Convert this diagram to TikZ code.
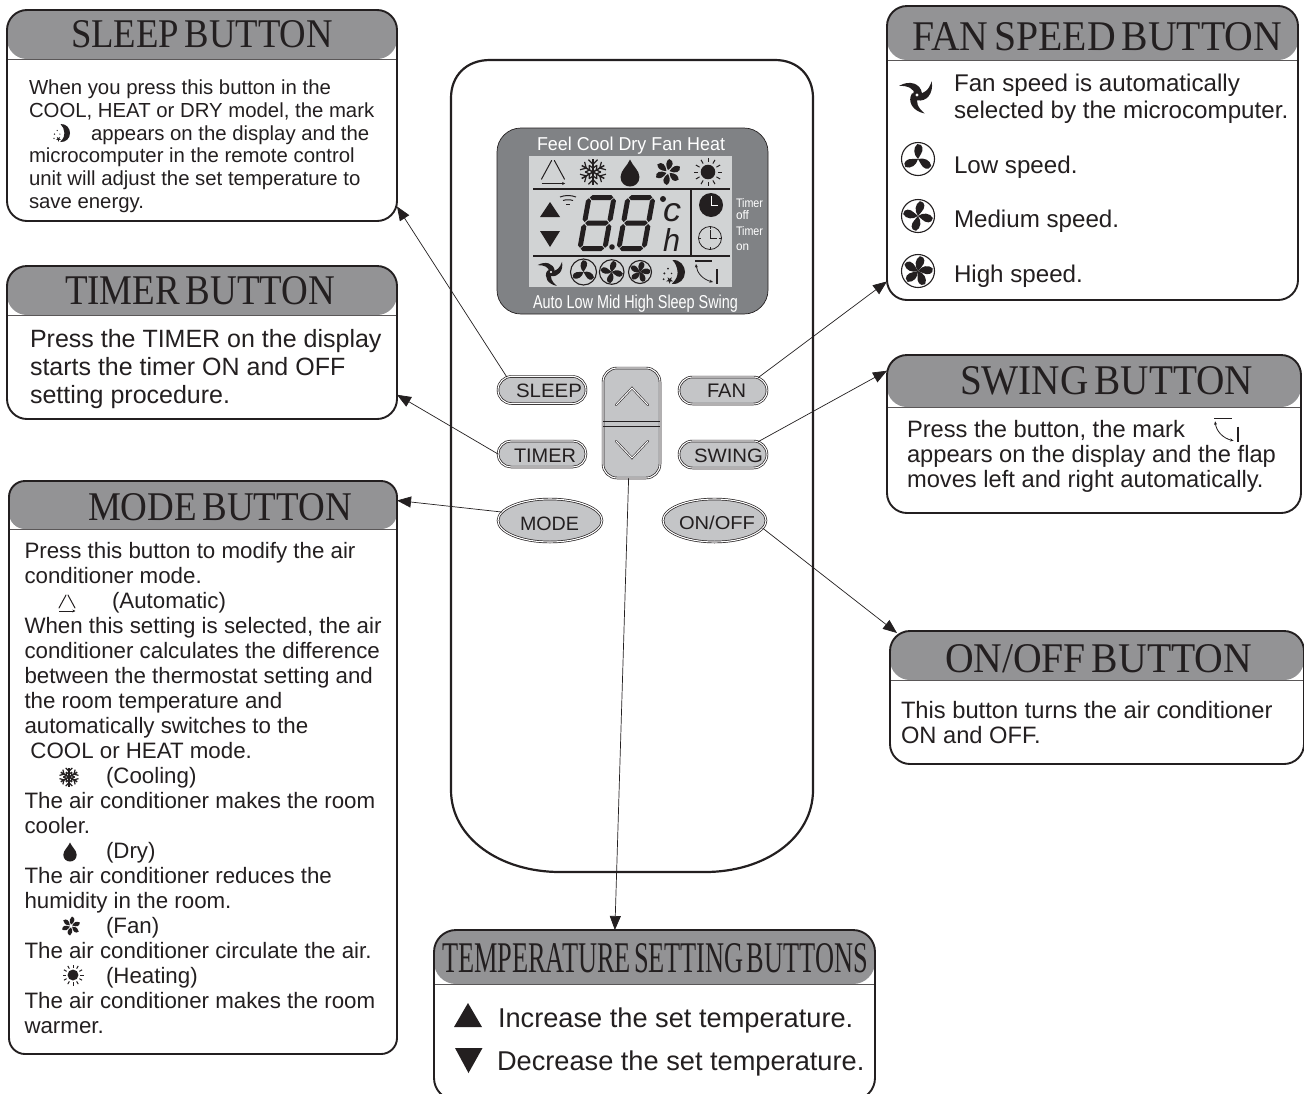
\documentclass[tikz,border=0pt]{standalone}
\usepackage{fontspec}
\usepackage{graphicx}
\setmainfont{Liberation Sans}
\newfontfamily\rsSerif{Liberation Serif}
\usetikzlibrary{arrows.meta,shapes.misc,shapes.geometric}
\definecolor{dark}{HTML}{231F20}
\definecolor{hdrc}{HTML}{939395}
\definecolor{btnc}{HTML}{C4C5C7}
\definecolor{lcdo}{HTML}{808285}
\definecolor{lcdi}{HTML}{D1D3D4}
\tikzset{
  panel/.style={draw=dark,line width=1.9pt,inner sep=0pt,outer sep=0pt,fill=white},
  lbl/.style={anchor=base west,inner sep=0pt,outer sep=0pt,text=dark},
  conn/.style={draw=dark,line width=.7pt,-{Triangle[length=14pt,width=11pt]}},
  btn/.style={draw=dark,line width=.7pt,double=white,double distance=1.1pt,fill=btnc,inner sep=0pt,outer sep=0pt},
  dbl/.style={draw=dark,line width=.55pt,double=white,double distance=1pt,line cap=round,line join=miter},
  ink/.style={draw=dark,fill=dark}
}
% name x1 y1 x2 y2 ybar radius
\newcommand\rsPanel[7]{%
  \pgfmathsetmacro\rsW{#4-#2}\pgfmathsetmacro\rsH{#5-#3}\pgfmathsetmacro\rsB{#6-#3}%
  \node[panel,minimum width=\rsW pt,minimum height=\rsH pt,rounded corners=#7pt,
    path picture={\fill[hdrc] (path picture bounding box.north west) rectangle ([yshift=-\rsB pt]path picture bounding box.north east);
      \draw[line width=1pt,draw=dark!75] ([yshift=-\rsB pt]path picture bounding box.north west) -- ([yshift=-\rsB pt]path picture bounding box.north east);}]
    (#1) at ({(#2+#4)/2},{(#3+#5)/2}) {};}
% name x baseline width height fontcmd text
\newcommand\rsFit[7]{\node[lbl] (#1) at (#2,#3) {\resizebox{#4pt}{#5pt}{#6#7}};}
% name x firstbaseline lead size {lines}
\newcommand\rsLines[6]{\foreach \rsT [count=\rsI from 0] in {#6} {\node[lbl,font=\fontsize{#5}{#5}\selectfont] (#1\rsI) at (#2,{#3+\rsI*#4}) {\rsT};}}
% icons: x y scale
\newcommand\icAuto[3]{\begin{scope}[shift={(#1,#2)},scale=#3]
  \draw[dark,line width=1pt,line cap=round] (-.12,-1) -- (-1,.62) (.12,-1) -- (1,.62);
  \draw[dark,line width=1pt,-{Stealth[length=3pt,width=3pt]}] (-1,1) -- (1.05,1);
\end{scope}}
\newcommand\icSnow[3]{\begin{scope}[shift={(#1,#2)},scale=#3]
  \foreach \a in {0,60,...,300}{\begin{scope}[rotate=\a]
    \draw[dark,line width=1.5pt] (0,0) -- (0,-1);
    \draw[dark,line width=1.2pt] (-.35,-.95) -- (0,-.6) -- (.35,-.95);
    \draw[dark,line width=1.2pt] (-.3,-.52) -- (0,-.3) -- (.3,-.52);
  \end{scope}}
\end{scope}}
\newcommand\icDrop[3]{\begin{scope}[shift={(#1,#2)},scale=#3]
  \fill[dark] (0,-1) .. controls (.2,-.5) and (.7,-.2) .. (.7,.3) .. controls (.7,.75) and (.35,1) .. (0,1) .. controls (-.35,1) and (-.7,.75) .. (-.7,.3) .. controls (-.7,-.2) and (-.2,-.5) .. (0,-1) -- cycle;
\end{scope}}
\newcommand\icPin[3]{\begin{scope}[shift={(#1,#2)},scale=#3]
  \foreach \a in {0,60,...,300}{\fill[dark,rotate=\a] (0,-.14) .. controls (-.2,-.5) and (-.18,-.85) .. (.1,-1) .. controls (.5,-.85) and (.42,-.42) .. (0,-.14) -- cycle;}
\end{scope}}
\newcommand\icSun[3]{\begin{scope}[shift={(#1,#2)},scale=#3]
  \fill[dark] (0,0) circle (.52);
  \foreach \a in {0,30,...,330}{\draw[dark,line width=1pt,rotate=\a] (0,-.7) -- (0,-1);}
\end{scope}}
% fan in circle: x y r list-of-angles
\newcommand\icFan[4]{\begin{scope}[shift={(#1,#2)},scale=#3]
  \draw[dark,line width=1.1pt] (0,0) circle (1);
  \foreach \a in {#4}{\fill[dark,rotate=\a] (0,0) .. controls (-.22,-.3) and (-.2,-.72) .. (.12,-.9) .. controls (.5,-.85) and (.42,-.45) .. (.22,-.26) .. controls (.12,-.15) .. (0,0) -- cycle;}
\end{scope}}
\newcommand\icAfan[3]{\begin{scope}[shift={(#1,#2)},scale=#3]
  \foreach \a in {0,110,-110}{\fill[dark,rotate=\a] (0,.33) .. controls (.6,.45) and (1.05,-.1) .. (.92,-.85) .. controls (.75,-.35) and (.45,-.02) .. (.05,-.12) -- cycle;}
  \fill[dark] (0,0) circle (.28);
  \fill[white] (0,0) circle (.1);
\end{scope}}
\newcommand\icStar[3]{\fill[dark,shift={(#1,#2)},scale=#3] (90:1) -- (234:1) -- (18:1) -- (162:1) -- (306:1) -- cycle;}
\newcommand\icMoon[3]{\begin{scope}[shift={(#1,#2)},scale=#3]
  \fill[dark] (-.05,-1) .. controls (.6,-1.05) and (1,-.5) .. (1,0) .. controls (1,.6) and (.55,1.05) .. (-.1,1) .. controls (.3,.6) and (.4,.3) .. (.38,0) .. controls (.36,-.4) and (.2,-.75) .. (-.05,-1) -- cycle;
  \icStar{-.28}{.68}{.3}
  \fill[dark] (-.72,.12) circle (.09) (-.42,-.28) circle (.08) (-.78,.6) circle (.08) (-.12,.12) circle (.07);
\end{scope}}
\newcommand\icSwing[3]{\begin{scope}[shift={(#1,#2)},scale=#3]
  \draw[dark,line width=1.1pt] (1,1) -- (18,1);
  \draw[dark,line width=1.3pt] (23,9) -- (23,23.5);
  \draw[dark,line width=.8pt,{Stealth[length=3.5pt,width=3pt]}-{Stealth[length=3.5pt,width=3pt]}] (2,4) .. controls (3,13) and (9,19.5) .. (19,22);
\end{scope}}
\newcommand\rsHS[3]{\fill[dark] (#1,#3) -- ({#1+2.5},{#3-2.5}) -- ({#2-2.5},{#3-2.5}) -- (#2,#3) -- ({#2-2.5},{#3+2.5}) -- ({#1+2.5},{#3+2.5}) -- cycle;}
\newcommand\rsVS[3]{\fill[dark] (#1,#2) -- ({#1+2.5},{#2+2.5}) -- ({#1+2.5},{#3-2.5}) -- (#1,#3) -- ({#1-2.5},{#3-2.5}) -- ({#1-2.5},{#2+2.5}) -- cycle;}
\newcommand\rsDigit[2]{\begin{scope}[shift={(#1,#2)},xslant=.18]
  \rsHS{3.2}{26.8}{2.5}\rsHS{3.2}{26.8}{28}\rsHS{3.2}{26.8}{53.5}
  \rsVS{2.5}{3.2}{27}\rsVS{27.5}{3.2}{27}\rsVS{2.5}{29}{52.8}\rsVS{27.5}{29}{52.8}
\end{scope}}
\begin{document}
\begin{tikzpicture}[x=1pt,y=-1pt]
\useasboundingbox (0,0) rectangle (1304,1093);
\clip (0,0) rectangle (1304,1093);
\fill[white] (0,0) rectangle (1304,1093);
% remote body
\draw[dark,line width=2.2pt] (490,60) -- (775,60) .. controls (798,60) and (813,76) .. (813,98) -- (813,790) .. controls (813,838) and (765,872) .. (705,872) -- (560,872) .. controls (500,872) and (451,838) .. (451,790) -- (451,98) .. controls (451,76) and (466,60) .. (490,60) -- cycle;
% display
\node[draw=dark,line width=.7pt,fill=lcdo,rounded corners=24pt,minimum width=271pt,minimum height=186pt,inner sep=0pt] (lcd) at (632.5,221) {};
\node[fill=lcdi,minimum width=203pt,minimum height=131pt,inner sep=0pt] (lcdin) at (630.5,221.5) {};
\rsFit{lcdtop}{537}{150}{188}{13.5}{\color{white}}{Feel Cool Dry Fan Heat}
\rsFit{lcdbot}{533}{308}{205}{13.5}{\color{white}}{Auto Low Mid High Sleep Swing}
\rsFit{tm1}{736}{207}{27}{9}{\color{white}}{Timer}
\rsFit{tm2}{736}{219}{13}{9}{\color{white}}{off}
\rsFit{tm3}{736}{235}{27}{9}{\color{white}}{Timer}
\rsFit{tm4}{736}{250}{13}{6.5}{\color{white}}{on}
\draw[dark,line width=1.9pt] (533,189) -- (730,189) (533,256) -- (730,256);
\draw[dark,line width=1.1pt] (691,189) -- (691,256);
\icAuto{553}{172}{11.5}
\icSnow{593}{172}{13}
\icDrop{630}{173}{13.5}
\icPin{668}{172}{13}
\icSun{708}{172}{14}
\fill[dark] (540,217) -- (560,217) -- (550,202) -- cycle;
\fill[dark] (540,231) -- (560,231) -- (550,247) -- cycle;
\draw[dark,line width=1pt] (560,197) .. controls (565,195) and (571,195) .. (576,197);
\draw[dark,line width=1pt] (563,200.5) .. controls (566,199.5) and (570,199.5) .. (573,200.5);
\draw[dark,line width=1pt] (566,204.5) -- (570,204.5);
\rsDigit{587}{195}
\rsDigit{626}{195}
\fill[dark] (612,247) circle (2.8);
\fill[dark] (663,199) circle (3);
\rsFit{unitc}{663}{221}{18}{18}{\itshape}{c}
\rsFit{unith}{663}{251}{17}{23}{\itshape}{h}
% clocks
\fill[dark] (711,205) circle (12);
\draw[white,line width=.8pt] (711,196) -- (711,205) -- (718,205);
\draw[dark,line width=.8pt] (710,238) circle (11.5);
\draw[dark,line width=.8pt] (710,229.5) -- (710,238) -- (717,238);
\draw[dark,line width=1pt] (710,226.5) -- (710,229) (710,247) -- (710,249.5) (698.5,238) -- (701,238) (719,238) -- (721.5,238);
\icAfan{551}{272}{12}
\icFan{583.5}{272}{13}{10,130,250}
\icFan{611.7}{272}{12.3}{0,90,180,270}
\icFan{640}{272}{11.5}{0,72,144,216,288}
\icMoon{673}{272}{12}
\icSwing{694}{260}{1}
% buttons
\node[btn,rounded rectangle,minimum width=88pt,minimum height=27pt] (bsleep) at (542,390) {};
\node[btn,rounded rectangle,minimum width=88pt,minimum height=26pt] (btimer) at (542,454) {};
\node[btn,rounded rectangle,minimum width=88pt,minimum height=27pt] (bfan) at (723,390.5) {};
\node[btn,rounded rectangle,minimum width=88pt,minimum height=27pt] (bswing) at (723,454.5) {};
\node[btn,ellipse,minimum width=104pt,minimum height=43pt] (bmode) at (550,520.5) {};
\node[btn,ellipse,minimum width=103pt,minimum height=43pt] (bonoff) at (714.5,520.5) {};
\node[btn,rectangle,rounded corners=14pt,minimum width=57pt,minimum height=110pt] (pad) at (631.5,423) {};
\draw[dark,line width=.7pt] (pad.west |- 0,421) -- (pad.east |- 0,421) (pad.west |- 0,426) -- (pad.east |- 0,426);
\draw[dbl] (616,405) -- (632,388) -- (648,405);
\draw[dbl] (616,441) -- (632,458) -- (648,441);
\rsFit{tsleep}{516}{397}{66}{13.5}{}{SLEEP}
\rsFit{ttimer}{514}{462}{62}{13.5}{}{TIMER}
\rsFit{tfan}{707}{397}{39}{13.5}{}{FAN}
\rsFit{tswing}{694}{462}{69}{13.5}{}{SWING}
\rsFit{tmode}{520}{530}{59}{13.5}{}{MODE}
\rsFit{tonoff}{679}{529}{76}{13.5}{}{ON/OFF}
% panels
\rsPanel{psleep}{7}{10}{397}{221}{59}{20}
\rsPanel{ptimer}{7}{266}{397}{419}{315}{20}
\rsPanel{pmode}{9}{481}{397}{1054}{529}{16}
\rsPanel{pfan}{887}{6}{1298}{300}{60}{20}
\rsPanel{pswing}{887}{355}{1301}{513}{407}{20}
\rsPanel{ponoff}{890}{631}{1304}{764}{680}{20}
\rsPanel{ptemp}{434}{930}{875}{1100}{984}{22}
% titles
\rsFit{h1}{71}{47}{262}{27}{\rsSerif}{SLEEP\hspace{.15em}BUTTON}
\rsFit{h2}{65}{304}{270}{28}{\rsSerif}{TIMER\hspace{.15em}BUTTON}
\rsFit{h3}{88}{520}{264}{27}{\rsSerif}{MODE\hspace{.15em}BUTTON}
\rsFit{h4}{912}{50}{370}{28}{\rsSerif}{FAN\hspace{.15em}SPEED\hspace{.15em}BUTTON}
\rsFit{h5}{960}{394}{293}{28}{\rsSerif}{SWING\hspace{.15em}BUTTON}
\rsFit{h6}{945}{672}{307}{28}{\rsSerif}{ON/OFF\hspace{.15em}BUTTON}
\rsFit{h7}{442}{972}{426}{29}{\rsSerif}{TEMPERATURE\hspace{.12em}SETTING\hspace{.12em}BUTTONS}
% body texts
\rsLines{sa}{29}{94.5}{22.7}{20.35}{When you press this button in the,{COOL, HEAT or DRY model, the mark}}
\rsLines{sb}{91}{140}{22.7}{20.35}{appears on the display and the}
\rsLines{sc}{29}{162.7}{22.7}{20.35}{microcomputer in the remote control,unit will adjust the set temperature to,save energy.}
\icMoon{61}{133}{9}
\rsLines{ta}{30}{347}{28}{25}{Press the TIMER on the display,starts the timer ON and OFF,setting procedure.}
\rsLines{ma}{24.5}{558}{25}{22.3}{Press this button to modify the air,conditioner mode.}
\rsLines{mb}{112}{608}{25}{22.3}{(Automatic)}
\rsLines{mc}{24.5}{633}{25}{22.3}{{When this setting is selected, the air},conditioner calculates the difference,between the thermostat setting and,the room temperature and,automatically switches to the}
\rsLines{md}{30.5}{758}{25}{22.3}{COOL or HEAT mode.}
\rsLines{me}{106}{783}{25}{22.3}{(Cooling)}
\rsLines{mf}{24.5}{808}{25}{22.3}{The air conditioner makes the room,cooler.}
\rsLines{mg}{106}{858}{25}{22.3}{(Dry)}
\rsLines{mh}{24.5}{883}{25}{22.3}{The air conditioner reduces the,humidity in the room.}
\rsLines{mi}{106}{933}{25}{22.3}{(Fan)}
\rsLines{mj}{24.5}{958}{25}{22.3}{The air conditioner circulate the air.}
\rsLines{mk}{106}{983}{25}{22.3}{(Heating)}
\rsLines{ml}{24.5}{1008}{25}{22.3}{The air conditioner makes the room,warmer.}
\icAuto{67}{603}{8}
\icSnow{69}{777}{9.5}
\icDrop{70}{852}{9.5}
\icPin{71}{926}{9.5}
\icSun{73}{975}{10.5}
\rsLines{fa}{954}{91}{27.5}{24.15}{Fan speed is automatically,selected by the microcomputer.}
\rsLines{fb}{954}{173}{0}{24.15}{Low speed.}
\rsLines{fc}{954}{227}{0}{24.15}{Medium speed.}
\rsLines{fd}{954}{282}{0}{24.15}{High speed.}
\icAfan{917}{95}{16}
\icFan{918}{159}{16.5}{10,130,250}
\icFan{918}{216}{16.5}{0,90,180,270}
\icFan{918}{271}{16.5}{0,72,144,216,288}
\rsLines{wa}{907}{437}{25}{23.7}{{Press the button, the mark},appears on the display and the flap,moves left and right automatically.}
\icSwing{1213}{417}{1.08}
\rsLines{oa}{901}{718}{25}{23.7}{This button turns the air conditioner,ON and OFF.}
\rsLines{xa}{498}{1027}{0}{27.2}{Increase the set temperature.}
\rsLines{xb}{497}{1070}{0}{27.2}{Decrease the set temperature.}
\fill[dark] (454,1027) -- (482,1027) -- (468,1003) -- cycle;
\fill[dark] (455,1048) -- (482.5,1048) -- (468.5,1073) -- cycle;
% connectors
\draw[conn] (bsleep.160) -- (psleep.-25);
\draw[conn] (btimer.west) -- (ptimer.-15.3);
\draw[conn] (bmode.170) -- (pmode.54.35);
\draw[conn] (bfan.20) -- (pfan.212.4);
\draw[conn] (bswing.20) -- (pswing.163.6);
\draw[conn] (bonoff.-9) -- ([xshift=7pt,yshift=-2pt]ponoff.north west);
\draw[conn] (pad.267.5) -- (ptemp.115.5);
\end{tikzpicture}
\end{document}
